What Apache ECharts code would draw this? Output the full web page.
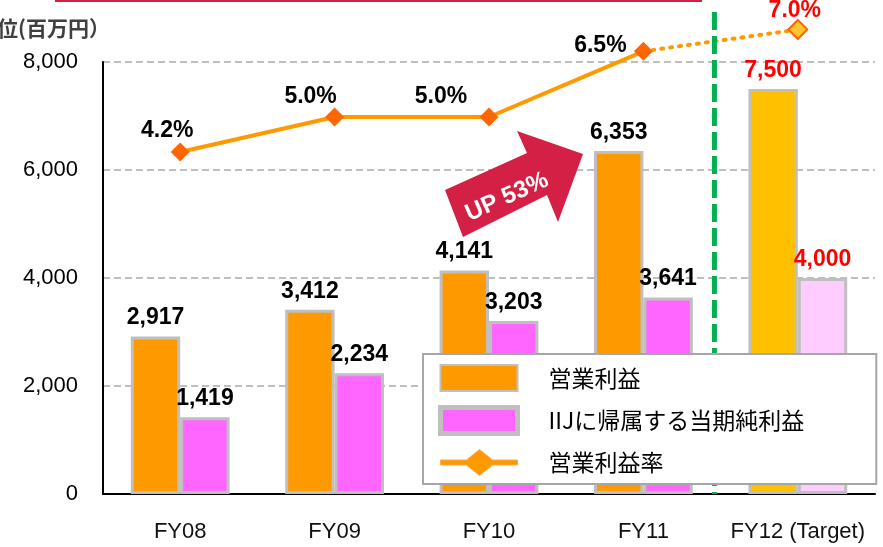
<!DOCTYPE html>
<html><head><meta charset="utf-8">
<script src="https://cdn.jsdelivr.net/npm/echarts@6/dist/echarts.min.js"></script>
<style>html,body{margin:0;padding:0;background:#fff}#c{width:883px;height:547px}</style>
</head><body><div id="c"></div>
<script>
const categories = ['FY08', 'FY09', 'FY10', 'FY11', 'FY12 (Target)'];
const operatingIncome = [2917, 3412, 4141, 6353, 7500];
const netIncome = [1419, 2234, 3203, 3641, 4000];
const operatingMargin = [4.2, 5.0, 5.0, 6.5, 7.0];
const yTicks = [0, 2000, 4000, 6000, 8000];
const names = ['営業利益', 'IIJに帰属する当期純利益', '営業利益率'];

const chart = echarts.init(document.getElementById('c'));
const NUM = "'Liberation Sans', Arial, sans-serif";
const CJK = "'Noto Sans CJK JP', sans-serif";
const last = categories.length - 1;
const fmt = v => v.toLocaleString('en-US');

const opData = operatingIncome.map((v, i) => i === last ? {
  value: v, itemStyle: {color: '#FFC000'}, label: {color: '#FF0000'}
} : v);
const niData = netIncome.map((v, i) => i === last ? {
  value: v, itemStyle: {color: '#FFCCFF'}, label: {color: '#FF0000'}
} : v);
const pctOffsets = [[-13, 5], [-24, 6], [-48, 6], [-43, 20], [-3, 8]];
const solidData = operatingMargin.map((v, i) => i === last ? null : {
  value: v, label: {offset: pctOffsets[i]}
});
const dottedData = operatingMargin.map((v, i) => {
  if (i < last - 1) return null;
  if (i === last - 1) return {value: v, symbol: 'none', label: {show: false}};
  return {value: v, label: {offset: pctOffsets[i]}};
});

const barLabel = {
  show: true, position: 'top', distance: 7, color: '#000',
  fontFamily: NUM, fontWeight: 'bold', fontSize: 23,
  formatter: p => fmt(p.value)
};
const lineIcon = 'path://M0,10.5L26,10.5L39,0L52,10.5L77,10.5L77,15.5L52,15.5L39,26L26,15.5L0,15.5Z';

chart.setOption({
  animation: false,
  grid: {left: 103, right: 8, top: 62, bottom: 53},
  legend: {
    data: [
      {name: names[0], icon: 'rect'},
      {name: names[1], icon: 'rect', itemStyle: {borderWidth: 5}},
      {name: names[2], icon: lineIcon, itemStyle: {color: '#FF9900', borderColor: '#FFA850', borderWidth: 1}}
    ],
    orient: 'vertical', left: 423, top: 354,
    padding: [10, 72, 8, 15], itemGap: 13,
    itemWidth: 77, itemHeight: 26,
    backgroundColor: '#fff', borderColor: '#A6A6A6', borderWidth: 2,
    textStyle: {fontFamily: CJK, fontSize: 23, color: '#000', padding: [0, 0, 0, 26]},
    z: 10
  },
  xAxis: {
    type: 'category', data: categories,
    axisLine: {lineStyle: {color: '#000', width: 2}},
    axisTick: {show: false},
    axisLabel: {interval: 0, margin: 27, color: '#111', fontFamily: NUM, fontSize: 22}
  },
  yAxis: [{
    type: 'value', min: yTicks[0], max: yTicks[yTicks.length - 1], interval: yTicks[1] - yTicks[0],
    axisLine: {show: true, lineStyle: {color: '#000', width: 2}},
    axisTick: {show: false},
    axisLabel: {margin: 25, color: '#000', fontFamily: NUM, fontSize: 22, formatter: v => fmt(v)},
    splitLine: {lineStyle: {color: '#BFBFBF', width: 2, type: [7, 4]}}
  }, {
    type: 'value', min: -3.617, max: 6.257, show: false, splitLine: {show: false}
  }],
  series: [{
    name: names[0], type: 'bar', data: opData, barWidth: '32%', barGap: '0%',
    itemStyle: {color: '#FF9900', borderColor: '#BFBFBF', borderWidth: 3},
    label: barLabel, z: 2
  }, {
    name: names[1], type: 'bar', data: niData, barWidth: '32%', barGap: '0%',
    itemStyle: {color: '#FF66FF', borderColor: '#BFBFBF', borderWidth: 3},
    label: barLabel, z: 2
  }, {
    name: names[2], type: 'line', yAxisIndex: 1, data: solidData, clip: false,
    symbol: 'diamond', symbolSize: 19,
    lineStyle: {color: '#FF9900', width: 4},
    itemStyle: {color: '#FF6600'},
    label: {show: true, position: 'top', distance: 5, color: '#000', fontFamily: NUM,
      fontWeight: 'bold', fontSize: 23, formatter: p => p.value.toFixed(1) + '%'},
    z: 5
  }, {
    name: 'target-margin', type: 'line', yAxisIndex: 1, data: dottedData, clip: false,
    symbol: 'diamond', symbolSize: 19,
    lineStyle: {color: '#FF9900', width: 4, type: [2, 7], cap: 'round'},
    itemStyle: {color: '#FFC533', borderColor: '#FF6600', borderWidth: 2},
    label: {show: true, position: 'top', distance: 5, color: '#FF0000', fontFamily: NUM,
      fontWeight: 'bold', fontSize: 23, formatter: p => p.value.toFixed(1) + '%'},
    z: 5
  }]
});

const p11 = chart.convertToPixel({xAxisIndex: 0}, categories[last - 1]);
const p12 = chart.convertToPixel({xAxisIndex: 0}, categories[last]);
const gx = p11 + (p12 - p11) * 0.46;
const y0 = chart.convertToPixel({yAxisIndex: 0}, 0);

chart.setOption({
  graphic: [
    {type: 'line', shape: {x1: 55, y1: 1, x2: 702, y2: 1}, style: {stroke: '#D42045', lineWidth: 2}, z: 1},
    {type: 'text', x: 110, y: 28, style: {text: '単位(百万円）', align: 'right', verticalAlign: 'middle',
      font: "bold 21px 'Noto Sans CJK JP', sans-serif", fill: '#404040'}},
    {type: 'line', shape: {x1: gx, y1: 12, x2: gx, y2: y0}, z: 8,
      style: {stroke: '#00B050', lineWidth: 5, lineDash: [18, 6]}},
    {type: 'polygon', z: 6, shape: {points: [[445, 190], [527, 153], [517, 131], [583, 154], [558, 222], [547, 195], [463, 237]]},
      style: {fill: '#D42045'}},
    {type: 'text', z: 7, x: 507, y: 197, rotation: 24.3 * Math.PI / 180,
      style: {text: 'UP 53%', align: 'center', verticalAlign: 'middle',
        font: "bold 24px 'Liberation Sans', Arial, sans-serif", fill: '#fff'}}
  ]
});
</script></body></html>
